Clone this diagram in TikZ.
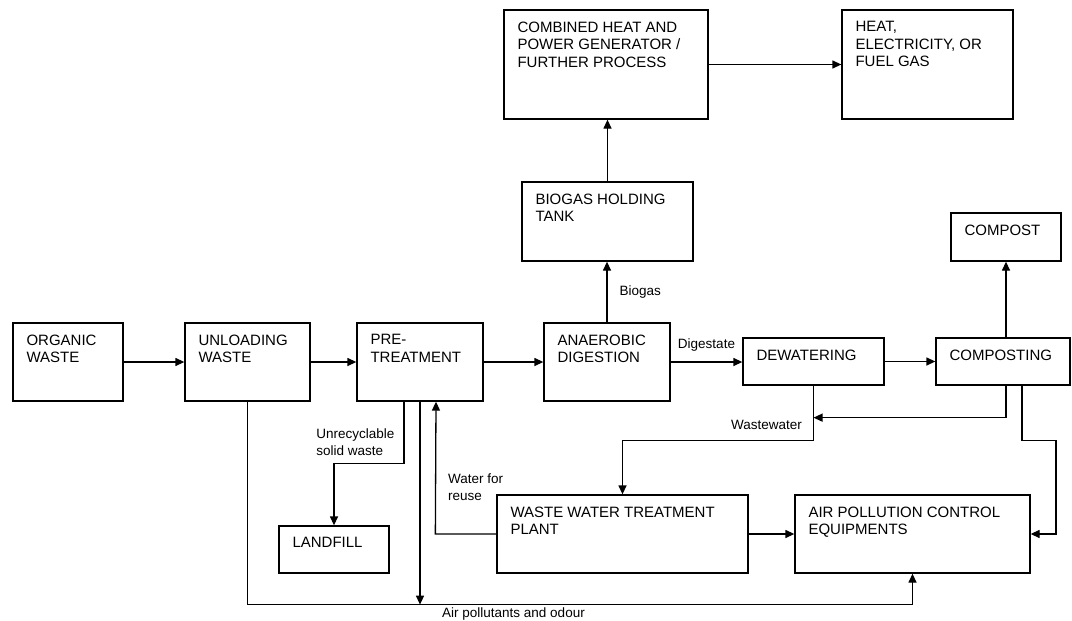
\documentclass[tikz,border=0pt]{standalone}
\usepackage{fontspec}
\setmainfont{Liberation Sans}
\usetikzlibrary{arrows.meta,calc,positioning}

\tikzset{
  blk/.style={draw, line width=1.3pt, inner sep=0pt, label={[blktxt]north west:#1}},
  blktxt/.style={anchor=north west, inner sep=0pt, align=left, xshift=14pt, yshift=-12pt,
    font=\fontsize{15}{17.5}\selectfont},
  arr/.style={line width=1.3pt, -{Triangle[length=9pt,width=8pt]}},
  lbl/.style={inner sep=0pt, font=\fontsize{13.5}{17}\selectfont},
}

\begin{document}
\begin{tikzpicture}[x=1pt,y=-1pt]
\useasboundingbox (0,0) rectangle (1072,621);

% Blocchi
\node[blk={ORGANIC\\WASTE}, minimum width=110pt, minimum height=78pt] (organic) at (68,362) {};
\node[blk={UNLOADING\\WASTE}, minimum width=125pt, minimum height=78pt] (unload) at (247.5,362) {};
\node[blk={PRE-\\TREATMENT}, minimum width=126pt, minimum height=78pt] (pretreat) at (420,362) {};
\node[blk={ANAEROBIC\\DIGESTION}, minimum width=126pt, minimum height=78pt] (digest) at (607,362) {};
\node[blk={DEWATERING}, minimum width=141pt, minimum height=47pt] (dewater) at (813.5,361.5) {};
\node[blk={COMPOSTING}, minimum width=134pt, minimum height=47pt] (composting) at (1003,361.5) {};
\node[blk={COMPOST}, minimum width=110pt, minimum height=48pt] (compost) at (1006,237) {};
\node[blk={BIOGAS HOLDING\\TANK}, minimum width=171pt, minimum height=79pt] (tank) at (607.5,221.5) {};
\node[blk={COMBINED HEAT AND\\POWER GENERATOR /\\FURTHER PROCESS}, minimum width=204pt, minimum height=109pt] (chp) at (606,64.5) {};
\node[blk={HEAT,\\ELECTRICITY, OR\\FUEL GAS}, minimum width=171pt, minimum height=109pt] (output) at (927.5,64.5) {};
\node[blk={LANDFILL}, minimum width=110pt, minimum height=47pt] (landfill) at (334,549.5) {};
\node[blk={WASTE WATER TREATMENT\\PLANT}, minimum width=251pt, minimum height=78pt] (wwtp) at (622.5,534) {};
\node[blk={AIR POLLUTION CONTROL\\EQUIPMENTS}, minimum width=235pt, minimum height=78pt] (apc) at (912.5,534) {};

% Punti di raccordo
\coordinate (airline) at ($(unload.south)+(0,203)$);
\coordinate (wwjoin) at ($(dewater.south)+(0,32)$);

% Linea principale
\draw[arr] (organic) -- (unload);
\draw[arr] (unload) -- (pretreat);
\draw[arr] (pretreat) -- (digest);
\draw[arr] (digest.east) -- node[lbl, above=10pt]{Digestate} (digest.east -| dewater.west);
\draw[arr] (dewater.east) -- (dewater.east -| composting.west);

% Biogas
\draw[arr] (digest.north) -- node[lbl, right=12pt]{Biogas} (digest.north |- tank.south);
\draw[arr] (tank.north) -- (tank.north |- chp.south);
\draw[arr] (chp) -- (output);

% Compost e acque
\draw[arr] (compost.south |- composting.north) -- (compost.south);
\draw[arr] (compost.south |- composting.south) |- (wwjoin);
\draw[arr] (dewater.south) -- node[lbl, pos=.71, left=11pt]{Wastewater} ++(0,55) -| (wwtp.north);
\draw[arr] ($(composting.south)+(19,0)$) -- ++(0,55) -- ++(34,0) |- (apc.east);

% Pretrattamento
\draw[arr] ($(pretreat.south)+(-16,0)$) -- node[lbl, pos=.65, left=9pt, align=left]{Unrecyclable\\solid waste} ++(0,62) -| (landfill.north);
\draw[arr] (pretreat.south) -- (pretreat.south |- airline);
\draw[arr] (wwtp.west) -- ++(-61,0) -- node[lbl, pos=.35, right=12pt, align=left]{Water for\\reuse} ($(pretreat.south)+(16,0)$);
\draw[arr] (wwtp) -- (apc);
\draw[arr] (unload.south) -- (airline) -- node[lbl, pos=.4, below=2pt]{Air pollutants and odour} (apc.south |- airline) -- (apc.south);
\end{tikzpicture}
\end{document}
